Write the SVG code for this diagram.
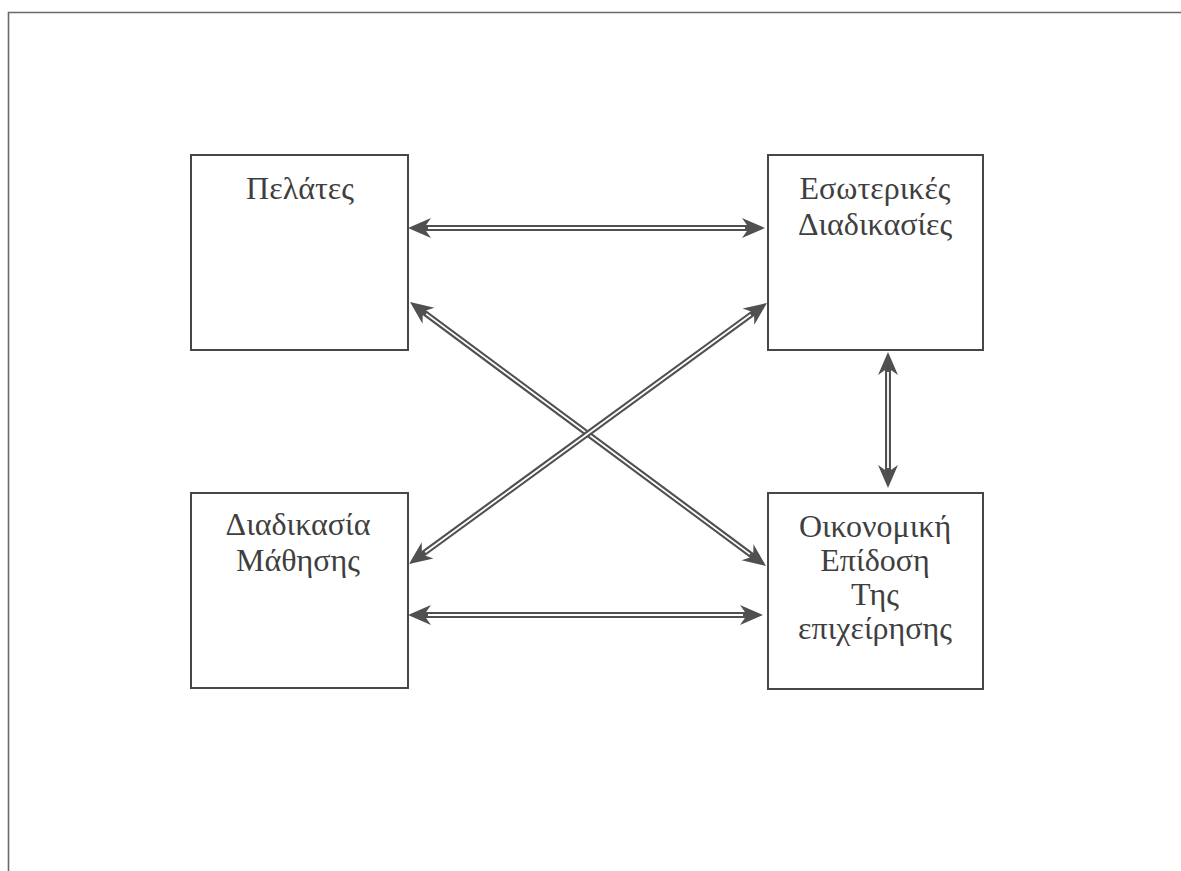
<svg xmlns="http://www.w3.org/2000/svg" xmlns:xlink="http://www.w3.org/1999/xlink" width="1181" height="871" viewBox="0 0 1181 871">
<style>
.frame{fill:none;stroke:#6a6a6a;stroke-width:1.6}
.box{fill:#fff;stroke:#474747;stroke-width:2}
.lbl{font-family:"Liberation Serif","DejaVu Serif",serif;font-size:32px;fill:#3f3f3f;text-anchor:middle}
.sd{stroke:#505050;stroke-width:6;fill:none}
.sw{stroke:#fff;stroke-width:1.8;fill:none}
.hd{fill:#505050}
</style>
<defs>
<path id="head" d="M0,0 L-23,-10 L-16,0 L-23,10 Z"/>
</defs>
<rect width="1181" height="871" fill="#fff"/>
<path class="frame" d="M8.5,871 L8.5,12.5 L1181,12.5"/>
<g id="n-pelates">
<rect class="box" x="191" y="155" width="217" height="195"/>
<text class="lbl" x="300" y="199">Πελάτες</text>
</g>
<g id="n-esoterikes">
<rect class="box" x="768" y="155" width="215" height="195"/>
<text class="lbl" x="875" y="199">Εσωτερικές</text>
<text class="lbl" x="875" y="235">Διαδικασίες</text>
</g>
<g id="n-mathisi">
<rect class="box" x="191" y="493" width="217" height="195"/>
<text class="lbl" x="298" y="535">Διαδικασία</text>
<text class="lbl" x="298" y="571">Μάθησης</text>
</g>
<g id="n-oikonomiki">
<rect class="box" x="768" y="493" width="215" height="196"/>
<text class="lbl" x="875" y="537">Οικονομική</text>
<text class="lbl" x="875" y="571">Επίδοση</text>
<text class="lbl" x="875" y="605">Της</text>
<text class="lbl" x="875" y="639">επιχείρησης</text>
</g>
<g id="connectors">
<line class="sd" x1="420" y1="228" x2="753" y2="228"/>
<line class="sw" x1="428" y1="228" x2="745" y2="228"/>
<use xlink:href="#head" class="hd" transform="translate(765,228)"/>
<use xlink:href="#head" class="hd" transform="translate(408,228) rotate(180)"/>

<line class="sd" x1="420" y1="615" x2="751" y2="615"/>
<line class="sw" x1="428" y1="615" x2="743" y2="615"/>
<use xlink:href="#head" class="hd" transform="translate(763,615)"/>
<use xlink:href="#head" class="hd" transform="translate(408,615) rotate(180)"/>

<line class="sd" x1="888" y1="364" x2="888" y2="476"/>
<line class="sw" x1="888" y1="372" x2="888" y2="468"/>
<use xlink:href="#head" class="hd" transform="translate(888,352) rotate(-90)"/>
<use xlink:href="#head" class="hd" transform="translate(888,488) rotate(90)"/>

<line class="sd" x1="419.6" y1="309.2" x2="756.4" y2="558.8"/>
<line class="sw" x1="426.1" y1="313.9" x2="749.9" y2="554.1"/>
<use xlink:href="#head" class="hd" transform="translate(766,566) rotate(36.56)"/>
<use xlink:href="#head" class="hd" transform="translate(410,302) rotate(216.56)"/>

<line class="sd" x1="757.3" y1="310.1" x2="418.7" y2="556.9"/>
<line class="sw" x1="750.8" y1="314.8" x2="425.2" y2="552.2"/>
<use xlink:href="#head" class="hd" transform="translate(767,303) rotate(-36.1)"/>
<use xlink:href="#head" class="hd" transform="translate(409,564) rotate(143.9)"/>
</g>
</svg>
